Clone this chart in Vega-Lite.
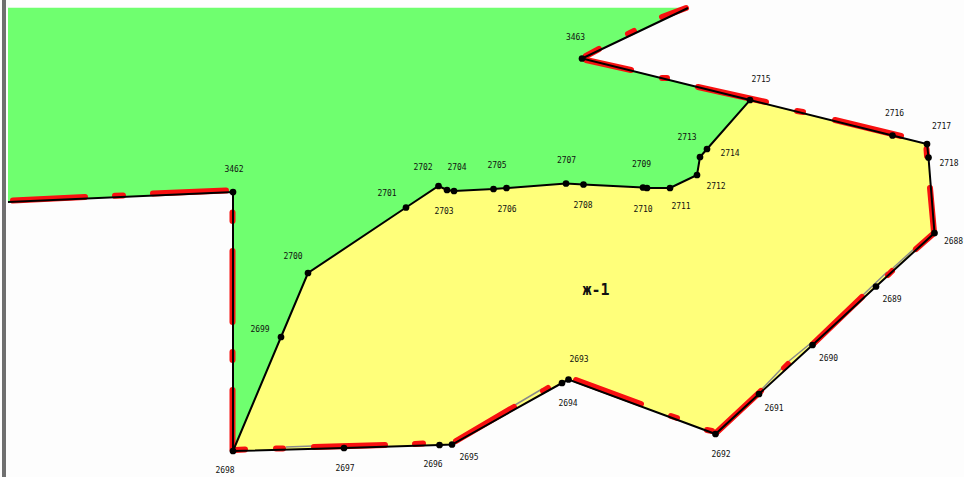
{
"$schema":"https://vega.github.io/schema/vega-lite/v6.json",
"width":964,"height":477,"padding":0,
"autosize":{"type":"none"},
"background":"#fdfdfd",
"view":{"stroke":null},
"datasets":{
"zones":[
{"zone":"green","o":1,"x":8,"y":8},{"zone":"green","o":2,"x":688,"y":8},{"zone":"green","o":3,"x":582,"y":58.5},{"zone":"green","o":4,"x":750,"y":100},{"zone":"green","o":5,"x":707,"y":149},{"zone":"green","o":6,"x":700,"y":157},{"zone":"green","o":7,"x":697,"y":175},{"zone":"green","o":8,"x":670,"y":188},{"zone":"green","o":9,"x":647,"y":188},{"zone":"green","o":10,"x":583.5,"y":184.5},{"zone":"green","o":11,"x":566,"y":183.5},{"zone":"green","o":12,"x":506.5,"y":188},{"zone":"green","o":13,"x":454,"y":191},{"zone":"green","o":14,"x":438.5,"y":186},{"zone":"green","o":15,"x":406,"y":207.5},{"zone":"green","o":16,"x":308,"y":273},{"zone":"green","o":17,"x":233,"y":451},{"zone":"green","o":18,"x":233,"y":192},{"zone":"green","o":19,"x":8,"y":202},
{"zone":"yellow","o":1,"x":233,"y":451},{"zone":"yellow","o":2,"x":308,"y":273},{"zone":"yellow","o":3,"x":406,"y":207.5},{"zone":"yellow","o":4,"x":438.5,"y":186},{"zone":"yellow","o":5,"x":454,"y":191},{"zone":"yellow","o":6,"x":506.5,"y":188},{"zone":"yellow","o":7,"x":566,"y":183.5},{"zone":"yellow","o":8,"x":583.5,"y":184.5},{"zone":"yellow","o":9,"x":647,"y":188},{"zone":"yellow","o":10,"x":670,"y":188},{"zone":"yellow","o":11,"x":697,"y":175},{"zone":"yellow","o":12,"x":700,"y":157},{"zone":"yellow","o":13,"x":707,"y":149},{"zone":"yellow","o":14,"x":750,"y":100},{"zone":"yellow","o":15,"x":927,"y":144},{"zone":"yellow","o":16,"x":928.5,"y":157.5},{"zone":"yellow","o":17,"x":934.5,"y":233},{"zone":"yellow","o":18,"x":876,"y":286.5},{"zone":"yellow","o":19,"x":715.5,"y":434},{"zone":"yellow","o":20,"x":568.5,"y":379.5},{"zone":"yellow","o":21,"x":452,"y":444.5},{"zone":"yellow","o":22,"x":233,"y":451}
],
"red":[
{"x":13,"y":200.5,"x2":85,"y2":197},{"x":115,"y":195.8,"x2":123,"y2":195.5},{"x":153,"y":193.5,"x2":226,"y2":190.5},
{"x":232.5,"y":212.5,"x2":232.5,"y2":221},{"x":232.5,"y":251,"x2":232.5,"y2":322},{"x":232.5,"y":352,"x2":232.5,"y2":360},{"x":232.5,"y":390,"x2":232.5,"y2":450},
{"x":235,"y":450,"x2":245,"y2":449.5},{"x":276,"y":448.5,"x2":283,"y2":448.5},{"x":314,"y":447,"x2":385,"y2":445},{"x":415,"y":444,"x2":423,"y2":443.5},
{"x":456,"y":441,"x2":514,"y2":407},{"x":543,"y":391,"x2":548,"y2":388},
{"x":576,"y":380,"x2":641,"y2":404},{"x":671,"y":416,"x2":677,"y2":418},{"x":707,"y":430,"x2":712,"y2":431},
{"x":717,"y":432,"x2":761,"y2":391},{"x":784,"y":368,"x2":788,"y2":364},
{"x":813,"y":344,"x2":862,"y2":297},{"x":888,"y":275,"x2":892,"y2":271},{"x":916,"y":249,"x2":933,"y2":234},
{"x":934,"y":232,"x2":930,"y2":188},{"x":926.5,"y":149,"x2":927,"y2":156},
{"x":835,"y":120,"x2":901,"y2":136},{"x":797,"y":111,"x2":803,"y2":112},{"x":698,"y":87,"x2":766,"y2":102},{"x":662,"y":78,"x2":667,"y2":78},{"x":586,"y":60,"x2":631,"y2":70},
{"x":586,"y":56,"x2":599,"y2":49},{"x":628,"y":34,"x2":634,"y2":31},{"x":662,"y":17,"x2":686,"y2":8}
],
"gray":[
{"x":515,"y":405,"x2":542,"y2":389},{"x":762,"y":389,"x2":783,"y2":367},{"x":789,"y":361,"x2":811,"y2":343},{"x":863,"y":295,"x2":887,"y2":272},{"x":893,"y":268,"x2":915,"y2":248},{"x":286,"y":447,"x2":313,"y2":446}
],
"edges":[
{"e":"main","o":1,"x":233,"y":451},{"e":"main","o":2,"x":281,"y":337},{"e":"main","o":3,"x":308,"y":273},{"e":"main","o":4,"x":406,"y":207.5},{"e":"main","o":5,"x":438.5,"y":186},{"e":"main","o":6,"x":447,"y":190},{"e":"main","o":7,"x":454,"y":191},{"e":"main","o":8,"x":493.5,"y":189},{"e":"main","o":9,"x":506.5,"y":188},{"e":"main","o":10,"x":566,"y":183.5},{"e":"main","o":11,"x":583.5,"y":184.5},{"e":"main","o":12,"x":643,"y":187.5},{"e":"main","o":13,"x":647,"y":188},{"e":"main","o":14,"x":670,"y":188},{"e":"main","o":15,"x":697,"y":175},{"e":"main","o":16,"x":700,"y":157},{"e":"main","o":17,"x":707,"y":149},{"e":"main","o":18,"x":750,"y":100},{"e":"main","o":19,"x":892.5,"y":135.5},{"e":"main","o":20,"x":927,"y":144},{"e":"main","o":21,"x":928.5,"y":157.5},{"e":"main","o":22,"x":934.5,"y":233},{"e":"main","o":23,"x":876,"y":286.5},{"e":"main","o":24,"x":812.5,"y":345},{"e":"main","o":25,"x":759,"y":394},{"e":"main","o":26,"x":715.5,"y":434},{"e":"main","o":27,"x":568.5,"y":379.5},{"e":"main","o":28,"x":562,"y":383},{"e":"main","o":29,"x":452,"y":444.5},{"e":"main","o":30,"x":439.5,"y":445},{"e":"main","o":31,"x":344,"y":448},{"e":"main","o":32,"x":233,"y":451},{"e":"main","o":33,"x":233,"y":192},{"e":"main","o":34,"x":8,"y":202},
{"e":"upper","o":1,"x":750,"y":100},{"e":"upper","o":2,"x":582,"y":58.5},{"e":"upper","o":3,"x":688,"y":8}
],
"points":[
{"id":"3462","x":233,"y":192},{"id":"3463","x":582,"y":58.5},{"id":"2698","x":233,"y":451},{"id":"2699","x":281,"y":337},{"id":"2700","x":308,"y":273},{"id":"2701","x":406,"y":207.5},{"id":"2702","x":438.5,"y":186},{"id":"2703","x":447,"y":190},{"id":"2704","x":454,"y":191},{"id":"2705","x":493.5,"y":189},{"id":"2706","x":506.5,"y":188},{"id":"2707","x":566,"y":183.5},{"id":"2708","x":583.5,"y":184.5},{"id":"2709","x":643,"y":187.5},{"id":"2710","x":647,"y":188},{"id":"2711","x":670,"y":188},{"id":"2712","x":697,"y":175},{"id":"2713","x":700,"y":157},{"id":"2714","x":707,"y":149},{"id":"2715","x":750,"y":100},{"id":"2716","x":892.5,"y":135.5},{"id":"2717","x":927,"y":144},{"id":"2718","x":928.5,"y":157.5},{"id":"2688","x":934.5,"y":233},{"id":"2689","x":876,"y":286.5},{"id":"2690","x":812.5,"y":345},{"id":"2691","x":759,"y":394},{"id":"2692","x":715.5,"y":434},{"id":"2693","x":568.5,"y":379.5},{"id":"2694","x":562,"y":383},{"id":"2695","x":452,"y":444.5},{"id":"2696","x":439.5,"y":445},{"id":"2697","x":344,"y":448}
],
"labels":[
{"t":"3462","x":234,"y":170},{"t":"3463","x":575.5,"y":37.5},{"t":"2715","x":761,"y":80},{"t":"2716","x":894.5,"y":113.5},{"t":"2717","x":941.5,"y":127},{"t":"2718","x":949,"y":163.5},{"t":"2688","x":953.5,"y":241.5},{"t":"2689","x":892,"y":300},{"t":"2690","x":828.5,"y":358.5},{"t":"2691","x":774,"y":409},{"t":"2692","x":721,"y":454.5},{"t":"2693","x":579,"y":360},{"t":"2694","x":568,"y":404},{"t":"2695","x":469,"y":458},{"t":"2696","x":433,"y":465},{"t":"2697","x":345,"y":468.5},{"t":"2698","x":225,"y":471},{"t":"2699","x":260,"y":330},{"t":"2700","x":293,"y":257},{"t":"2701","x":387,"y":193.5},{"t":"2702","x":423,"y":168},{"t":"2703","x":444,"y":212},{"t":"2704","x":457,"y":168},{"t":"2705","x":497,"y":165.5},{"t":"2706","x":507,"y":209.5},{"t":"2707","x":566.5,"y":160.5},{"t":"2708","x":583,"y":206},{"t":"2709","x":641.5,"y":164.5},{"t":"2710","x":643,"y":210},{"t":"2711","x":681,"y":207},{"t":"2712","x":716,"y":187},{"t":"2713","x":687,"y":137.5},{"t":"2714","x":730,"y":154}
],
"zone":[{"t":"ж-1","x":596,"y":289.5}],
"frame":[{"x":3,"y":0,"y2":477},{"x":5,"y":0,"y2":477}]
},
"encoding":{
"x":{"field":"x","type":"quantitative","scale":{"domain":[0,964],"nice":false,"zero":false},"axis":null},
"y":{"field":"y","type":"quantitative","scale":{"domain":[477,0],"nice":false,"zero":false},"axis":null}
},
"layer":[
{"data":{"name":"zones"},"transform":[{"filter":"datum.zone==='green'"}],"mark":{"type":"line","fill":"#6fff6f","stroke":"#6fff6f","strokeWidth":0.5},
 "encoding":{"order":{"field":"o","type":"quantitative"}}},
{"data":{"name":"zones"},"transform":[{"filter":"datum.zone==='yellow'"}],"mark":{"type":"line","fill":"#ffff7a","stroke":"#ffff7a","strokeWidth":0.5},
 "encoding":{"order":{"field":"o","type":"quantitative"}}},
{"data":{"name":"gray"},"mark":{"type":"rule","stroke":"#8a8a8a","strokeWidth":1.5},
 "encoding":{"x2":{"field":"x2"},"y2":{"field":"y2"}}},
{"data":{"name":"red"},"mark":{"type":"rule","stroke":"#f81010","strokeWidth":6,"strokeCap":"round"},
 "encoding":{"x2":{"field":"x2"},"y2":{"field":"y2"}}},
{"data":{"name":"edges"},"mark":{"type":"line","stroke":"#000","strokeWidth":2},
 "encoding":{"order":{"field":"o","type":"quantitative"},"detail":{"field":"e"}}},
{"data":{"name":"points"},"mark":{"type":"circle","size":45,"color":"#000","opacity":1}},
{"data":{"name":"labels"},"mark":{"type":"text","font":"DejaVu Sans Mono","fontSize":8,"color":"#111","align":"center","baseline":"middle"},
 "encoding":{"text":{"field":"t"}}},
{"data":{"name":"zone"},"mark":{"type":"text","font":"DejaVu Sans Mono","fontSize":15,"fontWeight":"bold","color":"#111","align":"center","baseline":"middle"},
 "encoding":{"text":{"field":"t"}}},
{"data":{"name":"frame"},"mark":{"type":"rule","stroke":"#111","strokeWidth":1.2},
 "encoding":{"y2":{"field":"y2"}}}
]
}
